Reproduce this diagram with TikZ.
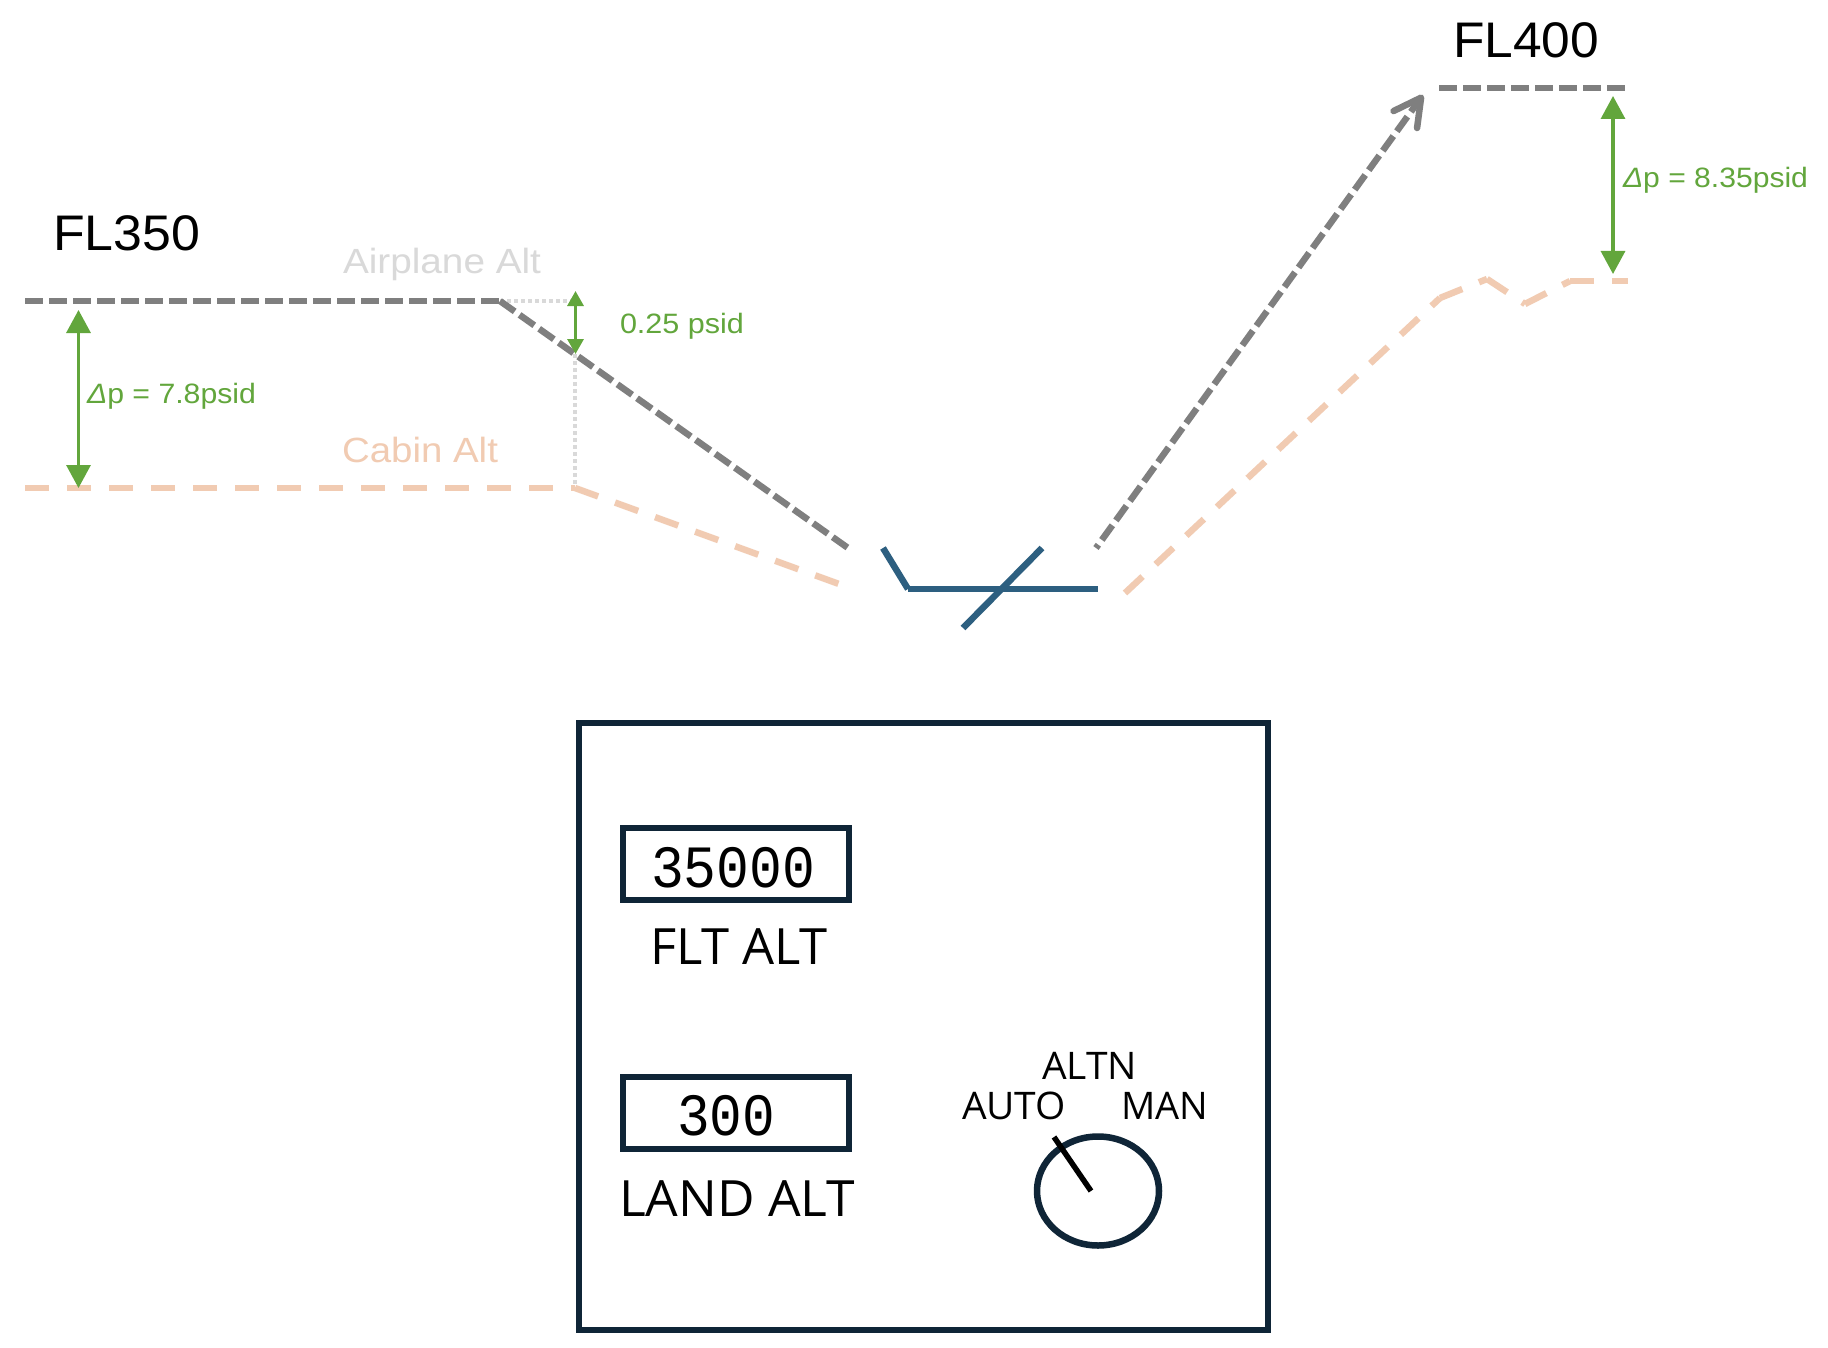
\documentclass[tikz,border=0pt]{standalone}
\usepackage{fontspec}
\usepackage{graphicx}
\usetikzlibrary{arrows.meta,shapes.geometric}
\setmainfont{Liberation Sans}
\newfontfamily\panelfont{Open Sans}
\newfontfamily\readoutfont{Liberation Mono}
\newcommand{\sized}[1]{\fontsize{#1pt}{#1pt}\selectfont}
% sets text to a given width, its height unchanged
\newcommand{\widthto}[2]{\resizebox{#1pt}{\height}{#2}}
\definecolor{planegrey}{HTML}{7F7F7F}
\definecolor{cabinpeach}{HTML}{F1CBB2}
\definecolor{deltagreen}{HTML}{62A63C}
\definecolor{guidegrey}{HTML}{D9D9D9}
\definecolor{runwayblue}{HTML}{2D5F80}
\definecolor{panelnavy}{HTML}{0F2537}
\tikzset{
  lbl/.style={anchor=base west,inner sep=0pt,outer sep=0pt},
  planeline/.style={draw=planegrey,line width=6.5pt,dash pattern=on 18pt off 6pt},
  cabinline/.style={draw=cabinpeach,line width=6.5pt,dash pattern=on 24pt off 18pt},
  guideline/.style={draw=guidegrey,line width=3.5pt,dash pattern=on 3.5pt off 3.5pt},
  deltabig/.style={draw=deltagreen,fill=deltagreen,line width=3.2pt,{Triangle[length=23pt,width=24pt]}-{Triangle[length=23pt,width=24pt]}},
  deltasmall/.style={draw=deltagreen,fill=deltagreen,line width=3.2pt,{Triangle[length=15pt,width=16pt]}-{Triangle[length=15pt,width=16pt]}},
  runway/.style={draw=runwayblue,line width=6.5pt},
  panelframe/.style={draw=panelnavy,line width=6pt,anchor=north west,inner sep=0pt,outer sep=0pt},
}
\begin{document}
\begin{tikzpicture}[x=1pt,y=-1pt]
\useasboundingbox (0,0) rectangle (1828,1348);
\fill[white] (0,0) rectangle (1828,1348);

% profile break points
\coordinate (cruiseL) at (25,301);
\coordinate (descentTop) at (500,301);
\coordinate (descentEnd) at (848,548);
\coordinate (climbStart) at (1096,548);
\coordinate (climbTip) at (1423,95);
\coordinate (highL) at (1439,88);
\coordinate (highR) at (1625,88);
\coordinate (guideCorner) at (575,301);
\coordinate (guideMid) at (575,354);
\coordinate (cabinL) at (25,488);
\coordinate (cabinKnee) at (575,488);
\coordinate (cabinDescEnd) at (839,584);
\coordinate (cabinClimb) at (1125,593);
\coordinate (cabinA) at (1440,298);
\coordinate (cabinB) at (1487,279);
\coordinate (cabinDip) at (1525,304);
\coordinate (cabinC) at (1570,281);
\coordinate (cabinR) at (1628,281);

% dotted guides
\draw[guideline] (descentTop) -- (guideCorner);
\draw[guideline] (guideMid) -- (cabinKnee);

% airplane altitude
\draw[planeline] (cruiseL) -- (descentTop);
\draw[planeline] (descentTop) -- (descentEnd);
\draw[planeline,dash phase=14pt,-{Straight Barb[length=27pt,width=29pt,line cap=round,line join=round]}] (climbStart) -- (climbTip);
\draw[planeline] (highL) -- (highR);

% cabin altitude, each leg restarting its dashes
\draw[cabinline] (cabinL) -- (cabinKnee);
\draw[cabinline,dash pattern=on 24.6pt off 18pt] (cabinKnee) -- (cabinDescEnd);
\draw[cabinline] (cabinClimb) -- (cabinA);
\draw[cabinline] (cabinA) -- (cabinB);
\draw[cabinline] (cabinB) -- (cabinDip);
\draw[cabinline] (cabinDip) -- (cabinC);
\draw[cabinline] (cabinC) -- (cabinR);

% runway symbol
\coordinate (rwA) at (883,548);
\coordinate (rwB) at (908,589);
\coordinate (rwC) at (1098,589);
\coordinate (rwD) at (963,628);
\coordinate (rwE) at (1042,548);
\draw[runway] (rwA) -- (rwB);
\draw[runway] (rwB) -- (rwC);
\draw[runway] (rwD) -- (rwE);

% pressure differentials
\coordinate (dpLt) at (78.5,310);
\coordinate (dpLb) at (78.5,488);
\coordinate (dpSt) at (575.5,291);
\coordinate (dpSb) at (575.5,354);
\coordinate (dpRt) at (1613,96);
\coordinate (dpRb) at (1613,274);
\draw[deltabig] (dpLt) -- (dpLb);
\draw[deltasmall] (dpSt) -- (dpSb);
\draw[deltabig] (dpRt) -- (dpRb);

% profile labels
\node[lbl] (fl350) at (53,251) {\sized{50}\widthto{147}{FL350}};
\node[lbl] (fl400) at (1453,58) {\sized{50}\widthto{146}{FL400}};
\node[lbl,text=guidegrey] (airplane) at (343,273) {\sized{35}\widthto{198}{Airplane Alt}};
\node[lbl,text=cabinpeach] (cabin) at (342,462) {\sized{35}\widthto{156}{Cabin Alt}};
\node[lbl,text=deltagreen] (psidS) at (620,333) {\sized{28}\widthto{124}{0.25 psid}};
\node[lbl,text=deltagreen] (psidL) at (87,403) {\sized{28}\widthto{169}{\textit{Δ}p = 7.8psid}};
\node[lbl,text=deltagreen] (psidR) at (1623,188) {\sized{28}\widthto{185}{\textit{Δ}p = 8.35psid}};

% control panel
\node[panelframe,minimum width=689pt,minimum height=607pt] (panel) at (579,723) {};
\node[panelframe,minimum width=226pt,minimum height=72pt] (fltbox) at (623,828) {};
\node[panelframe,minimum width=226pt,minimum height=72pt] (landbox) at (623,1077) {};
\node[lbl] (fltval) at (651,887) {\readoutfont\sized{60}\widthto{164}{35000}};
\node[lbl] (landval) at (677,1135) {\readoutfont\sized{60}\widthto{98}{300}};
\node[lbl] (fltlbl) at (650,964) {\panelfont\sized{50}\widthto{178}{FLT ALT}};
\node[lbl] (landlbl) at (619,1216) {\panelfont\sized{50}\widthto{236}{LAND ALT}};
\node[lbl] (altn) at (1042,1079) {\panelfont\sized{38}\widthto{95}{ALTN}};
\node[lbl] (auto) at (962,1119) {\panelfont\sized{38}\widthto{104}{AUTO}};
\node[lbl] (man) at (1121,1119) {\panelfont\sized{38}\widthto{87}{MAN}};

% selector knob
\node[draw=panelnavy,line width=6.5pt,ellipse,minimum width=122pt,minimum height=109pt,inner sep=0pt] (knob) at (1098,1191) {};
\coordinate (needleTip) at (1054,1137);
\coordinate (needleHub) at (1091,1191);
\draw[black,line width=5.5pt] (needleTip) -- (needleHub);
\end{tikzpicture}
\end{document}
